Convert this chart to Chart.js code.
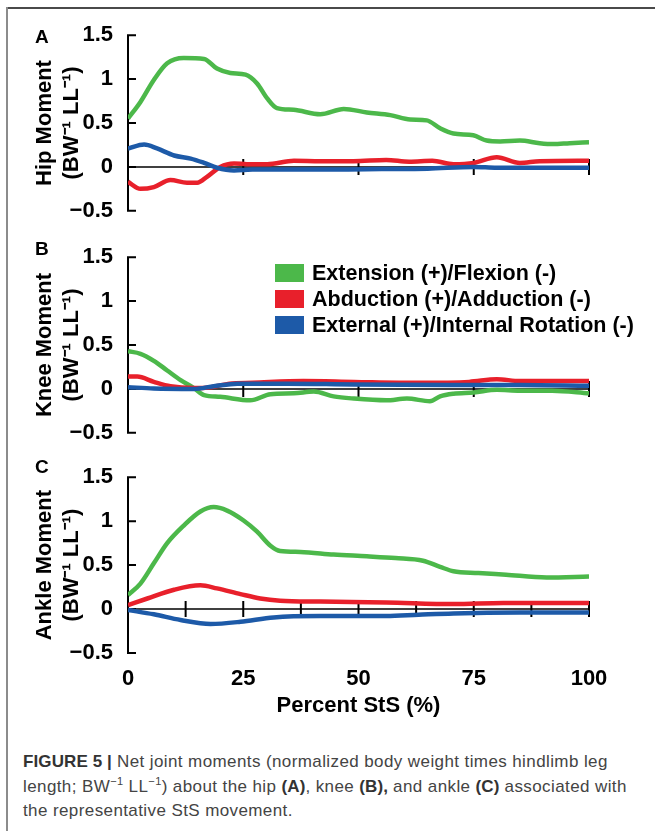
<!DOCTYPE html>
<html>
<head>
<meta charset="utf-8">
<script src="https://cdn.jsdelivr.net/npm/chart.js@4.4.0/dist/chart.umd.min.js"></script>
<style>
  body { margin: 0; background: #fff; width: 655px; height: 831px; position: relative; overflow: hidden; font-family: "Liberation Sans", Arial, sans-serif; }
  .frame-top { position: absolute; left: 6px; top: 7px; width: 649px; height: 2px; background: #4a4a4a; }
  .frame-left { position: absolute; left: 6px; top: 7px; width: 2px; height: 824px; background: #8c8c8c; }
  .panel { position: absolute; left: 0; width: 655px; }
  .letter { position: absolute; left: 35px; font: bold 19px "Liberation Sans", Arial, sans-serif; color: #000; }
  #legend { position: absolute; left: 275px; top: 260px; }
  .row { height: 26px; display: flex; align-items: center; font: bold 21.5px "Liberation Sans", Arial, sans-serif; color: #000; white-space: nowrap; }
  .box { width: 29px; height: 18px; margin-right: 8px; }
  #caption { position: absolute; left: 23px; top: 750px; white-space: nowrap; font-size: 17px; letter-spacing: 0.4px; line-height: 24.5px; color: #444; }
  #caption b { color: #333; letter-spacing: 0.1px; }
  #caption sup { font-size: 11px; line-height: 0; }
</style>
</head>
<body>
<div class="frame-top"></div>
<div class="frame-left"></div>

<div class="panel" style="top:15px"><canvas id="hipChart" width="655" height="216"></canvas></div>
<div class="panel" style="top:237px"><canvas id="kneeChart" width="655" height="216"></canvas></div>
<div class="panel" style="top:457px"><canvas id="ankleChart" width="655" height="262"></canvas></div>

<div class="letter" style="top:26px">A</div>
<div class="letter" style="top:238px">B</div>
<div class="letter" style="top:456px">C</div>

<div id="legend"></div>

<div id="caption"><b>FIGURE 5 |</b> Net joint moments (normalized body weight times hindlimb leg<br>length; BW<sup>−1</sup> LL<sup>−1</sup>) about the hip <b>(A)</b>, knee <b>(B),</b> and ankle <b>(C)</b> associated with<br>the representative StS movement.</div>

<script>
// --- DATA (percent of StS, moment in BW^-1 LL^-1) ---
const seriesLabels = ['Extension (+)/Flexion (-)', 'Abduction (+)/Adduction (-)', 'External (+)/Internal Rotation (-)'];
const seriesColors = ['#4cb84a', '#e8202b', '#1d5aa8'];

const yTickValues = [-0.5, 0, 0.5, 1, 1.5];
const yTickLabels = ['\u22120.5', '0', '0.5', '1', '1.5'];
const xTickLabels = ['0', '25', '50', '75', '100'];

// Hip
const hipExtX = [0, 2.7, 5.6, 8.5, 12.1, 16.5, 19.3, 22.2, 25.5, 28, 30.2, 32.3, 35.9, 41.7, 46.8, 51.8, 56.9, 61.2, 64.8, 67.7, 70.6, 74.9, 77.8, 80.7, 85, 89.3, 92.2, 95.8, 100];
const hipExtY = [0.55, 0.74, 0.99, 1.18, 1.24, 1.23, 1.12, 1.07, 1.05, 0.95, 0.78, 0.67, 0.65, 0.60, 0.66, 0.62, 0.59, 0.54, 0.53, 0.44, 0.38, 0.36, 0.30, 0.29, 0.30, 0.27, 0.26, 0.27, 0.28];
const hipAbdX = [0, 2.7, 5.6, 9.2, 12.8, 15, 17.2, 20, 23, 25.8, 30.2, 36, 41.7, 48.9, 56, 61, 66, 70.6, 75, 80, 85, 89.3, 100];
const hipAbdY = [-0.17, -0.25, -0.23, -0.15, -0.18, -0.18, -0.11, 0, 0.04, 0.03, 0.03, 0.07, 0.065, 0.065, 0.08, 0.06, 0.07, 0.03, 0.045, 0.11, 0.045, 0.065, 0.07];
const hipRotX = [0, 3.5, 6.3, 10, 13.6, 16.5, 19.3, 23, 27, 35, 45, 55, 65, 75, 80, 90, 100];
const hipRotY = [0.21, 0.255, 0.21, 0.13, 0.095, 0.046, -0.01, -0.04, -0.03, -0.03, -0.03, -0.025, -0.02, 0, -0.01, -0.01, -0.01];

// Knee
const kneeExtX = [0, 2.7, 5.6, 8.5, 11.4, 14.3, 16.5, 20, 26.5, 30.9, 36, 40.3, 44.6, 49, 56, 60.5, 65.5, 67.7, 70.6, 75, 80, 85, 92, 100];
const kneeExtY = [0.43, 0.40, 0.32, 0.21, 0.10, 0.01, -0.07, -0.09, -0.13, -0.06, -0.05, -0.03, -0.085, -0.11, -0.13, -0.11, -0.14, -0.085, -0.055, -0.04, -0.01, -0.02, -0.02, -0.05];
const kneeAbdX = [0, 2, 5.6, 9.2, 14.3, 18, 22, 27, 38, 49, 63, 74, 80, 85, 100];
const kneeAbdY = [0.14, 0.14, 0.08, 0.03, 0.01, 0.02, 0.06, 0.07, 0.09, 0.08, 0.07, 0.08, 0.11, 0.09, 0.09];
const kneeRotX = [0, 5.6, 14.3, 18.6, 23.7, 34.5, 49, 70.6, 85, 100];
const kneeRotY = [0.02, 0.005, 0, 0.03, 0.06, 0.06, 0.05, 0.045, 0.045, 0.035];

// Ankle
const ankleExtX = [0, 2.7, 5.6, 8.5, 12.1, 15.7, 18.6, 21.5, 25, 28, 30.9, 33, 37.4, 44.6, 51.8, 58, 64, 67.7, 70.6, 76, 82, 90.8, 100];
const ankleExtY = [0.16, 0.29, 0.52, 0.75, 0.95, 1.11, 1.16, 1.12, 1.01, 0.88, 0.72, 0.66, 0.65, 0.62, 0.60, 0.58, 0.55, 0.48, 0.43, 0.41, 0.39, 0.36, 0.37];
const ankleAbdX = [0, 4.2, 10, 15.7, 19.3, 24.4, 28.7, 33, 41.7, 56, 70.6, 81.4, 100];
const ankleAbdY = [0.045, 0.12, 0.22, 0.27, 0.235, 0.17, 0.12, 0.095, 0.085, 0.075, 0.057, 0.07, 0.07];
const ankleRotX = [0, 5.6, 11.4, 17.9, 24.4, 31.6, 41.7, 56, 63, 70.6, 85, 100];
const ankleRotY = [-0.01, -0.06, -0.125, -0.17, -0.145, -0.095, -0.08, -0.08, -0.065, -0.05, -0.04, -0.04];

// tick marks across the zero line
const marksQuarter = [25, 50, 75, 100];
const marksEighth = [12.5, 25, 37.5, 50, 62.5, 75, 87.5, 100];

// --- HELPERS ---
const pts = (xs, ys) => xs.map((x, i) => ({ x: x, y: ys[i] }));

// zero line, tick marks and the y axis line
const axisMarks = {
    id: 'axisMarks',
    beforeDatasetsDraw(chart, args, opts) {
        const { ctx, scales: { x, y } } = chart;
        const y0 = y.getPixelForValue(0);
        const left = x.getPixelForValue(0);
        ctx.save();
        ctx.strokeStyle = '#000';
        ctx.lineWidth = 1.5;
        ctx.beginPath();
        ctx.moveTo(left, y0);
        ctx.lineTo(x.getPixelForValue(100), y0);
        ctx.stroke();

        ctx.lineWidth = 2;
        ctx.beginPath();
        opts.marks.forEach(v => {
            const px = x.getPixelForValue(v);
            ctx.moveTo(px, y0 - 8);
            ctx.lineTo(px, y0 + 8);
        });
        yTickValues.forEach(v => {
            const py = y.getPixelForValue(v);
            ctx.moveTo(left, py);
            ctx.lineTo(left + 8, py);
        });
        ctx.moveTo(left, y.getPixelForValue(1.5) - 1);
        ctx.lineTo(left, y.getPixelForValue(-0.5) + 1);
        ctx.stroke();
        ctx.restore();
    }
};

function makePanel(id, title, series, marks, showX) {
    const ctx = document.getElementById(id).getContext('2d');
    return new Chart(ctx, {
        type: 'line',
        data: {
            datasets: series.map((s, i) => ({
                label: seriesLabels[i],
                data: s,
                borderColor: seriesColors[i],
                borderWidth: 4.5,
                pointRadius: 0,
                cubicInterpolationMode: 'monotone',
                fill: false
            })).reverse()
        },
        options: {
            responsive: false,
            animation: false,
            layout: { padding: { top: 20, bottom: showX ? 0 : 20, left: 0, right: 66 } },
            plugins: { legend: { display: false }, tooltip: { enabled: false }, axisMarks: { marks: marks } },
            scales: {
                x: {
                    type: 'linear', min: 0, max: 100,
                    display: showX,
                    grid: { display: false },
                    border: { display: false },
                    ticks: {
                        stepSize: 25, padding: 5, color: '#000',
                        font: { family: 'Liberation Sans', size: 22, weight: 'bold' },
                        callback: v => xTickLabels[v / 25]
                    },
                    title: {
                        display: showX, text: 'Percent StS (%)', color: '#000', padding: 0,
                        font: { family: 'Liberation Sans', size: 22, weight: 'bold', lineHeight: 1.2 }
                    },
                    afterFit: s => { s.height = showX ? 66 : 0; }
                },
                y: {
                    min: -0.5, max: 1.5,
                    grid: { display: false },
                    border: { display: false },
                    ticks: {
                        stepSize: 0.5, padding: 7, color: '#000',
                        font: { family: 'Liberation Sans', size: 22, weight: 'bold' },
                        callback: v => yTickLabels[yTickValues.indexOf(v)]
                    },
                    title: {
                        display: true, text: title, color: '#000',
                        padding: { top: 32, bottom: 0 },
                        font: { family: 'Liberation Sans', size: 22, weight: 'bold', lineHeight: 1.2 }
                    },
                    afterFit: s => { s.width = 128; }
                }
            }
        },
        plugins: [axisMarks]
    });
}

makePanel('hipChart', ['Hip Moment', '(BW\u207B\u00B9 LL\u207B\u00B9)'],
    [pts(hipExtX, hipExtY), pts(hipAbdX, hipAbdY), pts(hipRotX, hipRotY)], marksQuarter, false);
makePanel('kneeChart', ['Knee Moment', '(BW\u207B\u00B9 LL\u207B\u00B9)'],
    [pts(kneeExtX, kneeExtY), pts(kneeAbdX, kneeAbdY), pts(kneeRotX, kneeRotY)], marksQuarter, false);
makePanel('ankleChart', ['Ankle Moment', '(BW\u207B\u00B9 LL\u207B\u00B9)'],
    [pts(ankleExtX, ankleExtY), pts(ankleAbdX, ankleAbdY), pts(ankleRotX, ankleRotY)], marksEighth, true);

// legend (panel B)
const legendEl = document.getElementById('legend');
seriesLabels.forEach((label, i) => {
    const row = document.createElement('div');
    row.className = 'row';
    row.innerHTML = '<div class="box" style="background:' + seriesColors[i] + '"></div>' + label;
    legendEl.appendChild(row);
});
</script>
</body>
</html>
